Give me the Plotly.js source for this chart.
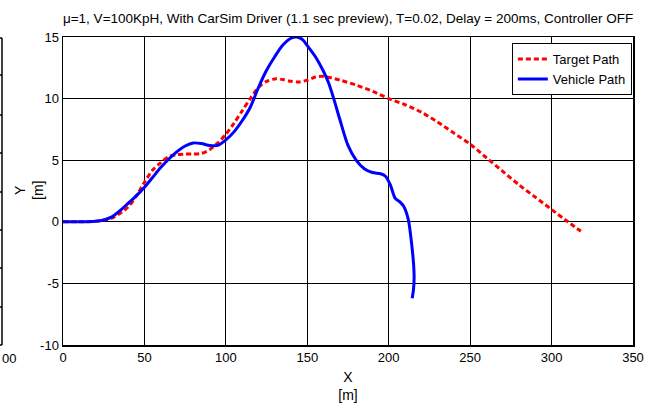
<!DOCTYPE html>
<html>
<head>
<meta charset="utf-8">
<script src="https://cdn.plot.ly/plotly-3.0.1.min.js"></script>
<style>html,body{margin:0;padding:0;background:#fff;}#chart{width:658px;height:408px;}</style>
</head>
<body>
<div id="chart"></div>
<script>
// Target path (red dashed)
const targetX = [0,10,20,30,40,45,50,55,60,65,70,75,80,85,90,95,100,105,110,115,120,125,130,135,140,145,150,155,160,170,180,190,200,210,220,230,240,250,260,270,280,290,300,310,318];
const targetY = [0,0,0.05,0.3,1.2,2.1,3.2,4.2,4.8,5.3,5.45,5.5,5.5,5.55,5.85,6.4,7.1,8.0,9.0,10.0,10.9,11.4,11.6,11.55,11.4,11.35,11.5,11.75,11.8,11.5,11.1,10.6,10.0,9.5,8.9,8.1,7.2,6.3,5.2,4.1,3.0,2.0,1.0,0.0,-0.76];

// Vehicle path (blue solid)
const vehicleX = [0,10,20,25,30,35,40,45,50,55,60,65,70,75,80,85,90,95,100,105,110,115,120,125,130,135,140,143.5,147,150,155,160,163,166,170,175,180,185,190,195,198,201,204,207,209,212,214,215.3,215.6,215.2,214.4];
const vehicleY = [0,0,0.05,0.15,0.4,0.9,1.5,2.1,2.8,3.6,4.4,5.1,5.7,6.15,6.4,6.35,6.2,6.2,6.65,7.3,8.2,9.3,10.9,12.3,13.4,14.35,14.9,15.0,14.8,14.3,13.4,12.2,11.3,10.1,8.3,6.2,5.0,4.3,4.0,3.9,3.7,3.0,1.9,1.6,1.3,0.2,-1.7,-3.5,-4.5,-5.5,-6.2];

const xTicks = [0,50,100,150,200,250,300,350];
const yTicks = [-10,-5,0,5,10,15];

const FONT = 'Liberation Sans, Arial, sans-serif';

const traces = [
  {x: targetX, y: targetY, name: 'Target Path', mode: 'lines',
   line: {color: '#ff0000', width: 3, dash: '5px,3px', shape: 'spline', smoothing: 0.8}},
  {x: vehicleX, y: vehicleY, name: 'Vehicle Path', mode: 'lines',
   line: {color: '#0000ff', width: 3, shape: 'spline', smoothing: 0.8}}
];

// remnant of a neighbouring figure at the left edge
const px = v => (v - 63) / 570;
const py = v => (345 - v) / 308;
const shapes = [
  {type:'line', xref:'paper', yref:'paper', x0:px(2), x1:px(2), y0:py(38), y1:py(345), line:{color:'#000', width:1.5}}
];
[38,75,115,153,192,230,268,307,345].forEach(v => shapes.push(
  {type:'line', xref:'paper', yref:'paper', x0:px(-1), x1:px(2), y0:py(v), y1:py(v), line:{color:'#000', width:1.5}}
));

const layout = {
  width: 658, height: 408,
  margin: {l: 63, r: 25, t: 37, b: 63},
  paper_bgcolor: '#fff', plot_bgcolor: '#fff',
  font: {family: FONT, size: 13, color: '#000'},
  title: {text: 'μ=1, V=100KpH, With CarSim Driver (1.1 sec preview), T=0.02, Delay = 200ms, Controller OFF',
          font: {family: FONT, size: 13.5, color: '#000'}, x: 0.529, xanchor: 'center', y: 0.955, yanchor: 'middle'},
  xaxis: {range: [0, 350], tickvals: xTicks, ticktext: xTicks.map(String), showgrid: true,
          gridcolor: '#000', gridwidth: 1, zeroline: false, showline: true, mirror: true,
          linecolor: '#000', linewidth: 1.5, ticks: '', tickfont: {size: 13},
          title: {text: 'X<br>[m]', font: {size: 14}, standoff: 8}},
  yaxis: {range: [-10, 15], tickvals: yTicks, ticktext: yTicks.map(String), showgrid: true,
          gridcolor: '#000', gridwidth: 1, zeroline: false, showline: true, mirror: true,
          linecolor: '#000', linewidth: 1.5, ticks: '', tickfont: {size: 13}},
  legend: {x: 0.998, y: 0.98, xanchor: 'right', yanchor: 'top', bgcolor: '#fff',
           bordercolor: '#000', borderwidth: 1, font: {size: 13}, itemwidth: 30,
           tracegroupgap: 0},
  showlegend: true,
  shapes: shapes,
  annotations: [
    {text: 'Y<br>[m]', xref: 'paper', yref: 'paper', x: px(29), y: 0.5, xanchor: 'center', yanchor: 'middle',
     textangle: -90, showarrow: false, font: {size: 14}},
    {text: '00', xref: 'paper', yref: 'paper', x: px(0), y: py(358), xanchor: 'left', yanchor: 'middle',
     showarrow: false, font: {size: 13}}
  ]
};

Plotly.newPlot('chart', traces, layout, {displayModeBar: false, staticPlot: true});
</script>
</body>
</html>
